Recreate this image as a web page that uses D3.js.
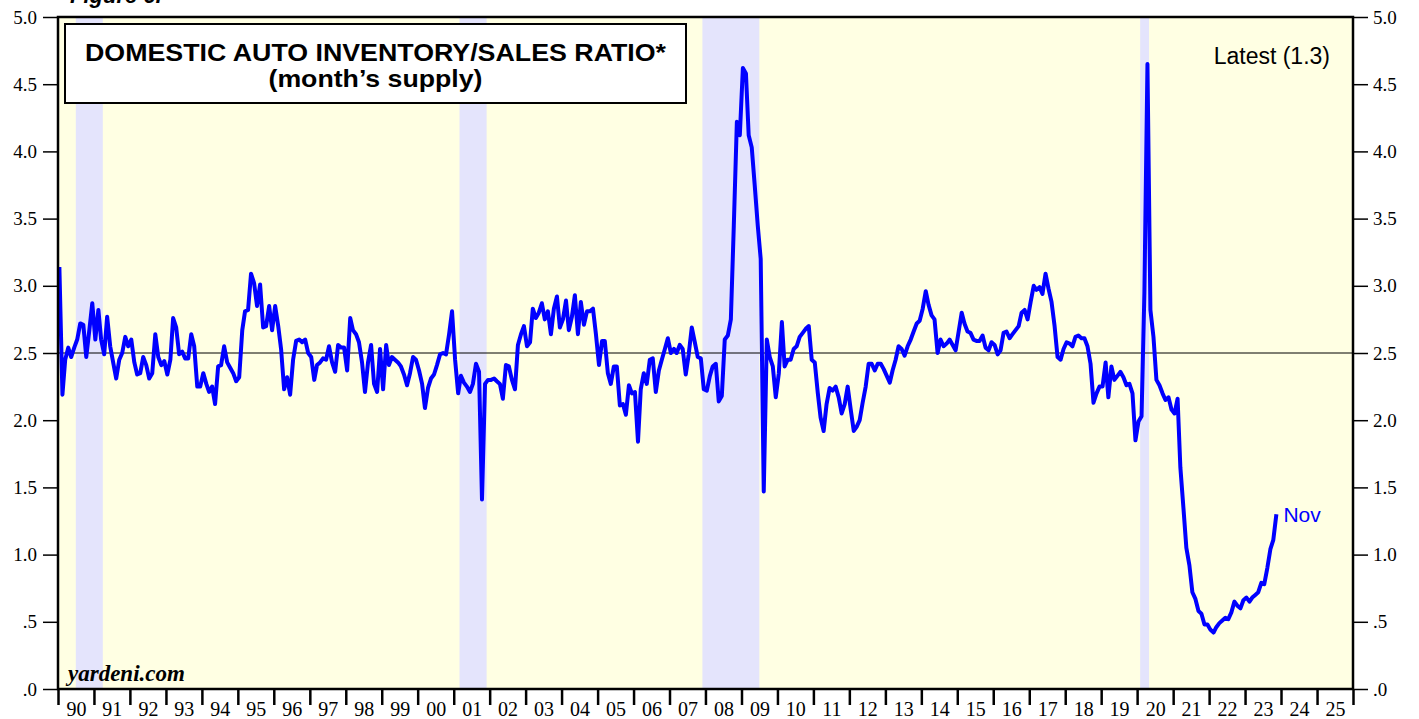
<!DOCTYPE html>
<html>
<head>
<meta charset="utf-8">
<script src="https://cdn.jsdelivr.net/npm/d3@7"></script>
<style>
body { margin: 0; background: #fff; }
</style>
</head>
<body>
<script>
// monthly ratio, Jan 1990 .. Nov 2023 (one row per year)
var ratio1990s = [
	3.14, 2.19, 2.45, 2.54, 2.47, 2.54, 2.60, 2.72, 2.71, 2.47, 2.67, 2.87,
	2.60, 2.82, 2.60, 2.49, 2.77, 2.55, 2.43, 2.31, 2.45, 2.50, 2.62, 2.55,
	2.60, 2.43, 2.34, 2.35, 2.47, 2.41, 2.31, 2.35, 2.64, 2.47, 2.41, 2.44,
	2.34, 2.45, 2.76, 2.69, 2.49, 2.51, 2.46, 2.46, 2.64, 2.55, 2.25, 2.25,
	2.35, 2.27, 2.21, 2.25, 2.12, 2.40, 2.41, 2.55, 2.43, 2.39, 2.35, 2.29,
	2.32, 2.67, 2.81, 2.82, 3.09, 3.02, 2.85, 3.01, 2.69, 2.70, 2.85, 2.67,
	2.85, 2.70, 2.53, 2.23, 2.32, 2.19, 2.45, 2.59, 2.60, 2.58, 2.60, 2.50,
	2.47, 2.30, 2.41, 2.43, 2.46, 2.45, 2.55, 2.43, 2.36, 2.56, 2.54, 2.54,
	2.37, 2.76, 2.67, 2.64, 2.58, 2.43, 2.21, 2.43, 2.56, 2.27, 2.21, 2.53,
	2.23, 2.56, 2.41, 2.47, 2.45, 2.43, 2.40, 2.34, 2.26, 2.35, 2.47, 2.45
];
var ratio2000s = [
	2.37, 2.27, 2.09, 2.24, 2.31, 2.34, 2.41, 2.49, 2.50, 2.49, 2.64, 2.81,
	2.45, 2.20, 2.33, 2.28, 2.25, 2.21, 2.27, 2.42, 2.36, 1.41, 2.27, 2.30,
	2.30, 2.31, 2.29, 2.27, 2.16, 2.41, 2.40, 2.30, 2.23, 2.56, 2.64, 2.70,
	2.55, 2.58, 2.83, 2.76, 2.80, 2.87, 2.75, 2.81, 2.64, 2.83, 2.92, 2.69,
	2.75, 2.89, 2.67, 2.77, 2.93, 2.64, 2.88, 2.71, 2.81, 2.81, 2.83, 2.64,
	2.41, 2.59, 2.59, 2.35, 2.27, 2.40, 2.40, 2.11, 2.12, 2.04, 2.26, 2.20,
	2.21, 1.84, 2.23, 2.35, 2.27, 2.45, 2.46, 2.21, 2.37, 2.45, 2.53, 2.61,
	2.50, 2.53, 2.50, 2.56, 2.53, 2.34, 2.49, 2.69, 2.58, 2.47, 2.46, 2.23,
	2.22, 2.33, 2.40, 2.42, 2.14, 2.18, 2.60, 2.63, 2.75, 3.45, 4.22, 4.12,
	4.62, 4.58, 4.12, 4.03, 3.75, 3.45, 3.20, 1.47, 2.60, 2.47, 2.40, 2.17
];
var ratio2010s = [
	2.35, 2.73, 2.40, 2.45, 2.45, 2.53, 2.55, 2.62, 2.65, 2.68, 2.70, 2.45,
	2.43, 2.20, 2.02, 1.92, 2.12, 2.24, 2.22, 2.25, 2.17, 2.05, 2.12, 2.25,
	2.08, 1.92, 1.95, 2.00, 2.13, 2.25, 2.42, 2.42, 2.37, 2.42, 2.42, 2.38,
	2.33, 2.28, 2.37, 2.45, 2.55, 2.53, 2.48, 2.55, 2.60, 2.66, 2.72, 2.74,
	2.83, 2.96, 2.86, 2.78, 2.75, 2.50, 2.60, 2.55, 2.57, 2.60, 2.56, 2.52,
	2.66, 2.80, 2.72, 2.66, 2.65, 2.60, 2.59, 2.59, 2.63, 2.54, 2.52, 2.58,
	2.56, 2.49, 2.52, 2.65, 2.66, 2.61, 2.64, 2.67, 2.70, 2.80, 2.82, 2.75,
	2.88, 3.00, 2.97, 2.99, 2.94, 3.09, 2.98, 2.88, 2.70, 2.47, 2.45, 2.53,
	2.58, 2.57, 2.55, 2.62, 2.63, 2.61, 2.61, 2.55, 2.42, 2.13, 2.20, 2.25,
	2.25, 2.43, 2.17, 2.40, 2.30, 2.33, 2.36, 2.32, 2.26, 2.27, 2.20, 1.85
];
var ratio2020s = [
	1.99, 2.03, 2.95, 4.65, 2.82, 2.62, 2.30, 2.26, 2.20, 2.15, 2.17, 2.08,
	2.05, 2.16, 1.65, 1.35, 1.05, 0.92, 0.72, 0.67, 0.58, 0.56, 0.48, 0.48,
	0.44, 0.42, 0.46, 0.49, 0.51, 0.53, 0.52, 0.57, 0.65, 0.62, 0.60, 0.66,
	0.68, 0.65, 0.68, 0.70, 0.72, 0.79, 0.78, 0.90, 1.04, 1.11, 1.30
];

var recessions = [
	["1990-07-01", "1991-04-01"],
	["2001-03-01", "2001-12-01"],
	["2007-12-01", "2009-07-01"],
	["2020-02-01", "2020-05-01"]
];
var yTicks = [0, 0.5, 1, 1.5, 2, 2.5, 3, 3.5, 4, 4.5, 5];
var years = d3.range(1990, 2026);
var titleLines = ["DOMESTIC AUTO INVENTORY/SALES RATIO*", "(month\u2019s supply)"];
var latestText = "Latest (1.3)";
var lastMonth = "Nov";

var width = 1419, height = 719;
var plot = { left: 58, right: 1353, top: 17, bottom: 689 };
var serif = "'Liberation Serif', 'Times New Roman', serif";
var sans = "'Liberation Sans', Arial, sans-serif";

var values = ratio1990s.concat(ratio2000s, ratio2010s, ratio2020s);
var series = values.map(function(v, i) {
	return { date: new Date(1990, i, 15), value: v };
});

var x = d3.scaleTime()
		.domain([new Date(1990, 0, 1), new Date(2026, 0, 1)])
		.range([plot.left, plot.right]);
var y = d3.scaleLinear()
		.domain([0, 5])
		.range([plot.bottom, plot.top]);

var svg = d3.select("body")
	.append("svg")
		.attr("width", width)
		.attr("height", height);

svg.append("rect")
		.attr("x", plot.left)
		.attr("y", plot.top)
		.attr("width", plot.right - plot.left)
		.attr("height", plot.bottom - plot.top)
		.attr("fill", "#ffffe3");

svg.append("g")
	.selectAll("rect")
		.data(recessions)
	.enter()
	.append("rect")
		.attr("x", function(d) { return x(new Date(d[0])); })
		.attr("y", plot.top)
		.attr("width", function(d) { return x(new Date(d[1])) - x(new Date(d[0])); })
		.attr("height", plot.bottom - plot.top)
		.attr("fill", "#e4e4fc");

svg.append("line")
		.attr("x1", plot.left)
		.attr("x2", plot.right)
		.attr("y1", y(2.5))
		.attr("y2", y(2.5))
		.attr("stroke", "#000")
		.attr("stroke-width", 1);

var line = d3.line()
		.x(function(d) { return x(d.date); })
		.y(function(d) { return y(d.value); });

svg.append("path")
		.datum(series)
		.attr("d", line)
		.attr("fill", "none")
		.attr("stroke", "#0000ff")
		.attr("stroke-width", 4)
		.attr("stroke-linejoin", "round");

// frame
svg.append("rect")
		.attr("x", plot.left)
		.attr("y", plot.top)
		.attr("width", plot.right - plot.left)
		.attr("height", plot.bottom - plot.top)
		.attr("fill", "none")
		.attr("stroke", "#000")
		.attr("stroke-width", 2.5);

function yFormat(d) {
	var s = d3.format(".1f")(d);
	return s.charAt(0) === "0" ? s.slice(1) : s;
}

var yLeft = svg.append("g")
		.attr("transform", "translate(" + plot.left + ",0)")
		.call(d3.axisLeft(y).tickValues(yTicks).tickSize(15).tickPadding(6).tickFormat(yFormat));
var yRight = svg.append("g")
		.attr("transform", "translate(" + plot.right + ",0)")
		.call(d3.axisRight(y).tickValues(yTicks).tickSize(15).tickPadding(5).tickFormat(yFormat));

[yLeft, yRight].forEach(function(g) {
	g.select(".domain").remove();
	g.selectAll(".tick line").attr("stroke", "#000").attr("stroke-width", 1.5);
	g.selectAll(".tick text")
		.attr("fill", "#000")
		.style("font-family", serif)
		.style("font-size", "19px");
});

var yearStarts = years.concat([2026]).map(function(yr) { return new Date(yr, 0, 1); });
var xTicks = svg.append("g")
		.attr("transform", "translate(0," + plot.bottom + ")")
		.call(d3.axisBottom(x).tickValues(yearStarts).tickSize(16).tickFormat(""));
xTicks.select(".domain").remove();
xTicks.selectAll(".tick line").attr("stroke", "#000").attr("stroke-width", 2.5);

var xLabels = svg.append("g")
		.attr("transform", "translate(0," + plot.bottom + ")")
		.call(d3.axisBottom(x)
			.tickValues(years.map(function(yr) { return new Date(yr, 6, 2); }))
			.tickSize(0)
			.tickPadding(13)
			.tickFormat(d3.timeFormat("%y")));
xLabels.select(".domain").remove();
xLabels.selectAll(".tick text")
		.attr("fill", "#000")
		.style("font-family", serif)
		.style("font-size", "20px");

// title box
svg.append("rect")
		.attr("x", 65)
		.attr("y", 24)
		.attr("width", 621)
		.attr("height", 79)
		.attr("fill", "#fff")
		.attr("stroke", "#000")
		.attr("stroke-width", 2);

var titleWidths = [581, 214];
svg.append("g")
	.selectAll("text")
		.data(titleLines)
	.enter()
	.append("text")
		.attr("x", 375.5)
		.attr("y", function(d, i) { return 61 + i * 26; })
		.attr("text-anchor", "middle")
		.attr("textLength", function(d, i) { return titleWidths[i]; })
		.attr("lengthAdjust", "spacingAndGlyphs")
		.style("font-family", sans)
		.style("font-weight", "bold")
		.style("font-size", "24px")
		.text(function(d) { return d; });

svg.append("text")
		.attr("x", 70)
		.attr("y", 3)
		.style("font-family", sans)
		.style("font-weight", "bold")
		.style("font-style", "italic")
		.style("font-size", "22px")
		.text("Figure 6.");

svg.append("text")
		.attr("x", 1330)
		.attr("y", 64)
		.attr("text-anchor", "end")
		.style("font-family", sans)
		.style("font-size", "23px")
		.text(latestText);

var last = series[series.length - 1];
svg.append("text")
		.attr("x", x(last.date) + 7)
		.attr("y", y(last.value) + 8)
		.attr("fill", "#0000ff")
		.style("font-family", sans)
		.style("font-size", "21px")
		.text(lastMonth);

svg.append("text")
		.attr("x", 68)
		.attr("y", 681)
		.style("font-family", serif)
		.style("font-weight", "bold")
		.style("font-style", "italic")
		.style("font-size", "23px")
		.text("yardeni.com");
</script>
</body>
</html>
